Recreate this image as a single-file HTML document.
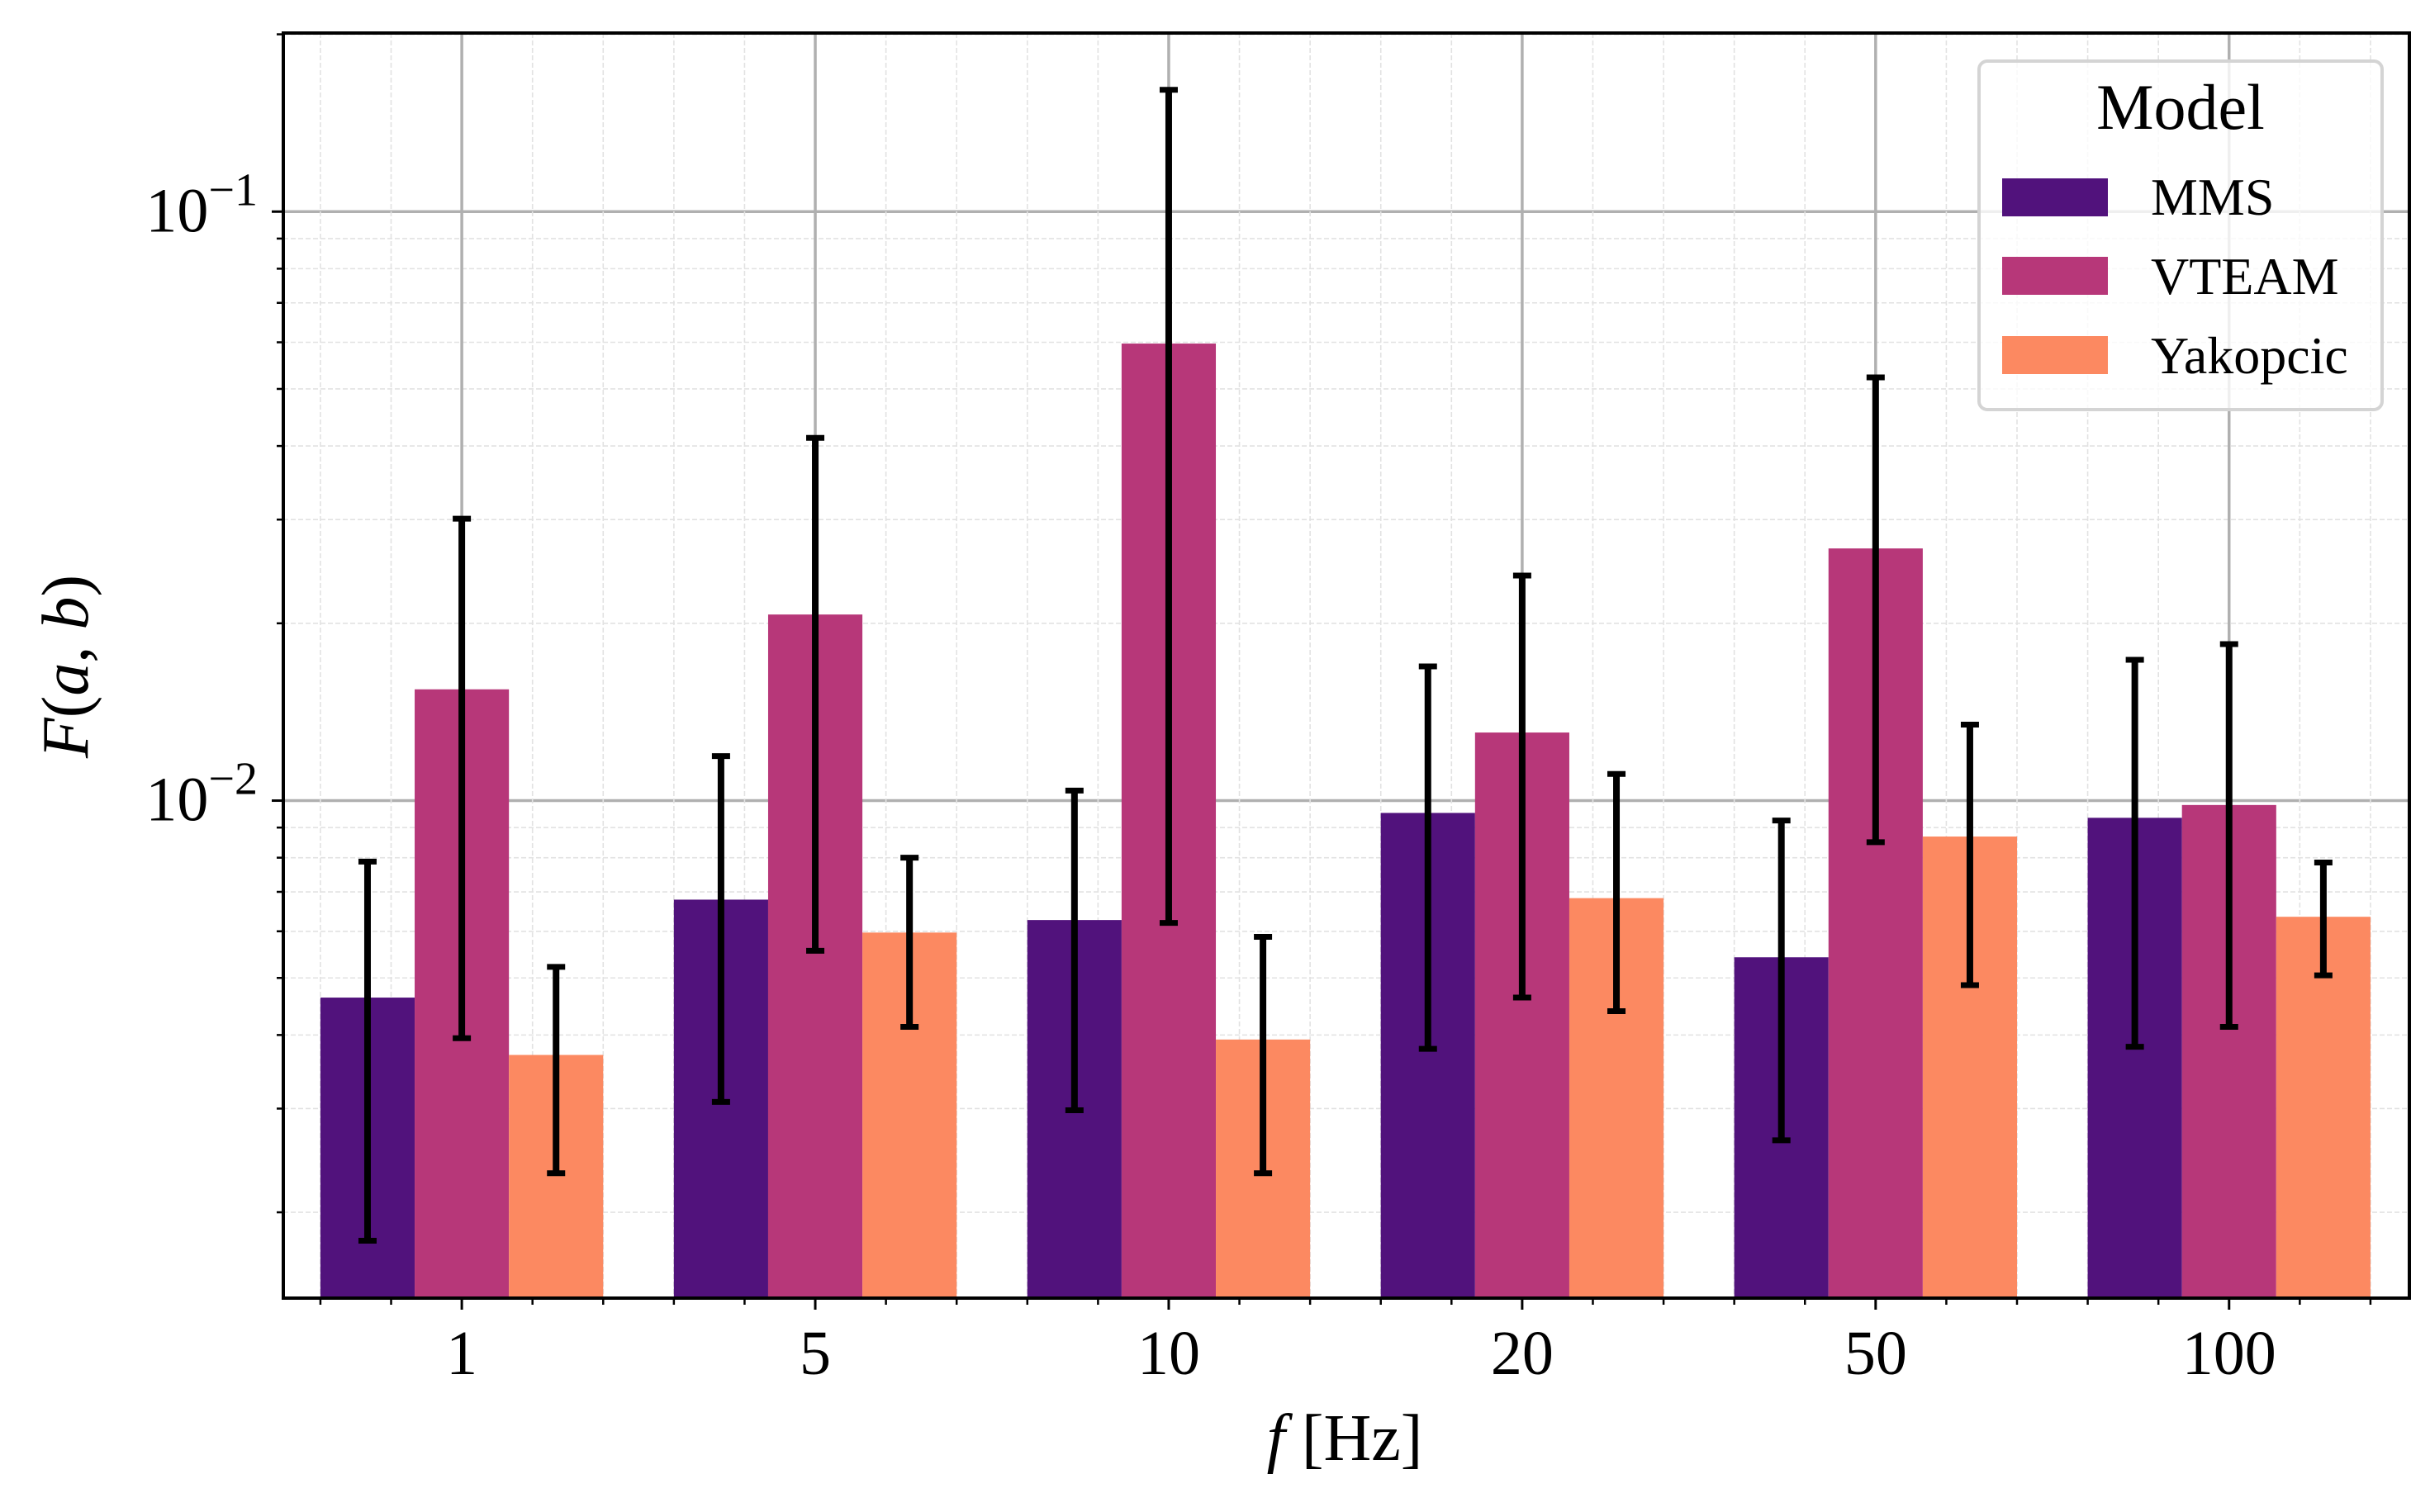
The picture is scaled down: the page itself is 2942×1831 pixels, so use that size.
<!DOCTYPE html>
<html><head><meta charset="utf-8"><style>
html,body{margin:0;padding:0;background:#fff}
svg text{font-family:"Liberation Serif",serif;fill:#000}
</style></head><body>
<svg id="chart" width="2942" height="1826" viewBox="0 0 2942 1826" xmlns="http://www.w3.org/2000/svg">
<g id="grid"></g>
<g id="bars"></g>
<g id="errs"></g>
<g id="axes"></g>
<g id="legend">
<rect x="2396" y="74" width="488" height="422" rx="10" fill="rgba(255,255,255,0.8)" stroke="#d4d4d4" stroke-width="4"/>
<text x="2640" y="156" font-size="78" text-anchor="middle">Model</text>
<rect x="2424" y="216" width="128" height="46" fill="#51127c"/>
<text x="2604" y="260" font-size="64">MMS</text>
<rect x="2424" y="311" width="128" height="46" fill="#b73779"/>
<text x="2604" y="356" font-size="64">VTEAM</text>
<rect x="2424" y="407" width="128" height="46" fill="#fc8961"/>
<text x="2604" y="452" font-size="64">Yakopcic</text>
</g>
<text x="1628" y="1768" font-size="80" text-anchor="middle"><tspan font-style="italic">f</tspan> [Hz]</text>
<text transform="translate(106,807) rotate(-90)" font-size="80" text-anchor="middle"><tspan font-style="italic">F</tspan>(<tspan font-style="italic">a</tspan>, <tspan font-style="italic">b</tspan>)</text>
</svg>
<script>
const categories = ["1","5","10","20","50","100"];
const seriesNames = ["MMS","VTEAM","Yakopcic"];
const mmsValues = [0.00463,0.00679,0.00627,0.00953,0.00542,0.00935];
const mmsHigh = [0.00788,0.0119,0.0104,0.0169,0.00925,0.01734];
const mmsLow = [0.00179,0.00308,0.00298,0.00379,0.00265,0.00382];
const vteamValues = [0.01545,0.0207,0.0597,0.01305,0.0268,0.00983];
const vteamHigh = [0.0301,0.0413,0.161,0.0241,0.0523,0.01844];
const vteamLow = [0.00395,0.00556,0.0062,0.00463,0.0085,0.00413];
const yakValues = [0.0037,0.00597,0.00393,0.00683,0.00869,0.00635];
const yakHigh = [0.00522,0.008,0.00587,0.0111,0.01346,0.00785];
const yakLow = [0.00233,0.00413,0.00233,0.00439,0.00486,0.00505];
const yTickExps = [-2,-1];

const NS="http://www.w3.org/2000/svg";
const L=343,R=2917,T=40,B=1572;
const yMin=0.00143,yMax=0.201;
const xMin=-0.505,xMax=5.51;
function X(i){return L+(i-xMin)/(xMax-xMin)*(R-L);}
function Y(v){return B-(Math.log10(v)-Math.log10(yMin))/(Math.log10(yMax)-Math.log10(yMin))*(B-T);}
function mk(tag,attrs,parent){const e=document.createElementNS(NS,tag);for(const k in attrs)e.setAttribute(k,attrs[k]);parent.appendChild(e);return e;}
const grid=document.getElementById('grid'),bars=document.getElementById('bars'),errs=document.getElementById('errs'),axes=document.getElementById('axes');
for(let d=-3;d<=-1;d++){for(let m=1;m<=9;m++){const v=m*Math.pow(10,d);if(v<yMin||v>yMax)continue;const y=Y(v);
 if(m===1){let e=mk('line',{x1:L,x2:R,y1:y,y2:y,stroke:'#b0b0b0','stroke-width':3.5},grid);}
 else{let e=mk('line',{x1:L,x2:R,y1:y,y2:y,stroke:'#e2e2e2','stroke-width':1.6,'stroke-dasharray':'6,3'},grid);
 let t=mk('line',{x1:L,x2:L-8,y1:y,y2:y,stroke:'#000','stroke-width':2.5},axes);}}}
const w=(X(1)-X(0))*0.2667;
categories.forEach((c,i)=>{
 [-0.4,-0.2,0.2,0.4].forEach(o=>{const x=X(i+o);
  let e=mk('line',{x1:x,x2:x,y1:T,y2:B,stroke:'#e2e2e2','stroke-width':1.6,'stroke-dasharray':'6,3'},grid);
  let t=mk('line',{x1:x,x2:x,y1:B,y2:B+8,stroke:'#000','stroke-width':2.5},axes);});
 const x=X(i);
 let g=mk('line',{x1:x,x2:x,y1:T,y2:B,stroke:'#b0b0b0','stroke-width':3.5},grid);
 let t=mk('line',{x1:x,x2:x,y1:B,y2:B+14,stroke:'#000','stroke-width':3},axes);
 let lb=mk('text',{x:x,y:1664,'font-size':76,'text-anchor':'middle'},axes);lb.textContent=c;
});
const series=[[mmsValues,mmsHigh,mmsLow,'#51127c','mms'],[vteamValues,vteamHigh,vteamLow,'#b73779','vteam'],[yakValues,yakHigh,yakLow,'#fc8961','yakopcic']];
series.forEach((s,k)=>{categories.forEach((c,i)=>{
 const cx=X(i)+(k-1)*w;const y=Y(s[0][i]);
 let r=mk('rect',{x:cx-w/2,y:y,width:w,height:B-y,fill:s[3]},bars);
 const yh=Y(s[1][i]),yl=Y(s[2][i]);
 let e=mk('line',{x1:cx,x2:cx,y1:yh,y2:yl,stroke:'#000','stroke-width':8},errs);
 [yh,yl].forEach(yy=>{let cp=mk('line',{x1:cx-11,x2:cx+11,y1:yy,y2:yy,stroke:'#000','stroke-width':7},errs);});
});});
yTickExps.forEach(ex=>{const y=Y(Math.pow(10,ex));
 let t=mk('line',{x1:L,x2:L-14,y1:y,y2:y,stroke:'#000','stroke-width':3},axes);
 let lb=mk('text',{x:312,y:y+24,'font-size':76,'text-anchor':'end'},axes);
 const a=document.createElementNS(NS,'tspan');a.textContent='10';lb.appendChild(a);
 const b=document.createElementNS(NS,'tspan');b.setAttribute('dy','-32');b.setAttribute('font-size','56');b.textContent='−'+(-ex);lb.appendChild(b);
});
let sp=mk('rect',{x:L,y:T,width:R-L,height:B-T,fill:'none',stroke:'#000','stroke-width':4},axes);
</script>
</body></html>
